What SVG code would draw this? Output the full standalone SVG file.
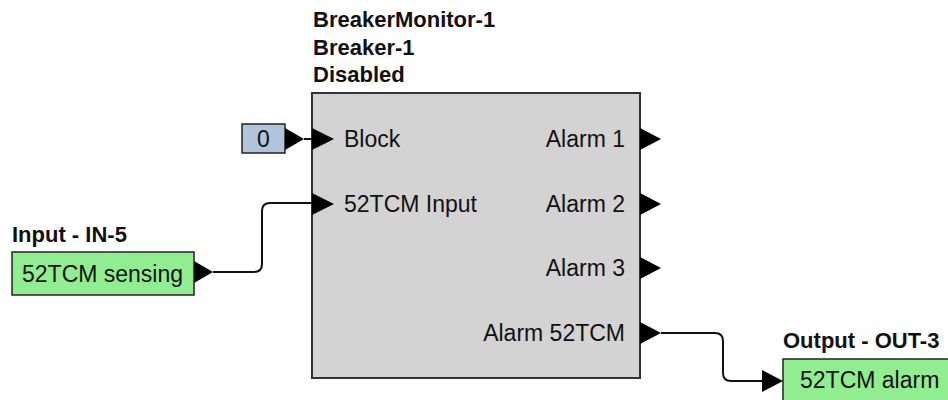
<svg xmlns="http://www.w3.org/2000/svg" width="948" height="400" viewBox="0 0 948 400">
<style>
  .t { font-family: "Liberation Sans", Arial, sans-serif; font-size: 23px; fill: #111; }
  .b { font-family: "Liberation Sans", Arial, sans-serif; font-size: 22px; font-weight: bold; fill: #111; }
  .end { text-anchor: end; }
  .port { fill: #000; }
  .wire { fill: none; stroke: #111; stroke-width: 2; }
</style>
<rect width="948" height="400" fill="#fff"/>
<g id="breakermonitor">
  <text class="b" x="313" y="27">BreakerMonitor-1</text>
  <text class="b" x="313" y="55">Breaker-1</text>
  <text class="b" x="313" y="82">Disabled</text>
  <rect x="312" y="93" width="328" height="285" fill="#d3d3d3" stroke="#333" stroke-width="2"/>
  <polygon class="port" points="312,128 334,139 312,150"/>
  <polygon class="port" points="312,193 334,204 312,215"/>
  <polygon class="port" points="640,128 661,139 640,150"/>
  <polygon class="port" points="640,193 661,204 640,215"/>
  <polygon class="port" points="640,257 661,268 640,279"/>
  <polygon class="port" points="640,322 661,333 640,344"/>
  <text class="t" x="344" y="147">Block</text>
  <text class="t" x="344" y="212">52TCM Input</text>
  <text class="t end" x="625" y="147">Alarm 1</text>
  <text class="t end" x="625" y="212">Alarm 2</text>
  <text class="t end" x="625" y="276">Alarm 3</text>
  <text class="t end" x="625" y="341">Alarm 52TCM</text>
</g>
<g id="const0">
  <rect x="242" y="124" width="43" height="29" fill="#b0c4de" stroke="#222" stroke-width="1.5"/>
  <text class="t" x="263.5" y="147" text-anchor="middle">0</text>
  <polygon class="port" points="285,128 304,139 285,150"/>
</g>
<g id="input">
  <text class="b" x="12" y="242">Input - IN-5</text>
  <rect x="12" y="252" width="182" height="43" fill="#90ee90" stroke="#222" stroke-width="1.5"/>
  <text class="t" x="22" y="282">52TCM sensing</text>
  <polygon class="port" points="194,261 213,272 194,283"/>
</g>
<g id="output">
  <text class="b" x="783" y="348">Output - OUT-3</text>
  <rect x="783" y="359" width="170" height="50" fill="#90ee90" stroke="#222" stroke-width="1.5"/>
  <text class="t" x="800" y="388">52TCM alarm</text>
</g>
<g id="connectors">
  <path class="wire" d="M304,139 H312"/>
  <path class="wire" d="M213,272 H254 Q262,272 262,264 V211 Q262,203 270,203 H312"/>
  <path class="wire" d="M661,333 H715 Q723,333 723,341 V373 Q723,381 731,381 H764"/>
  <polygon class="port" points="762,370 783,381 762,392"/>
</g>
</svg>
